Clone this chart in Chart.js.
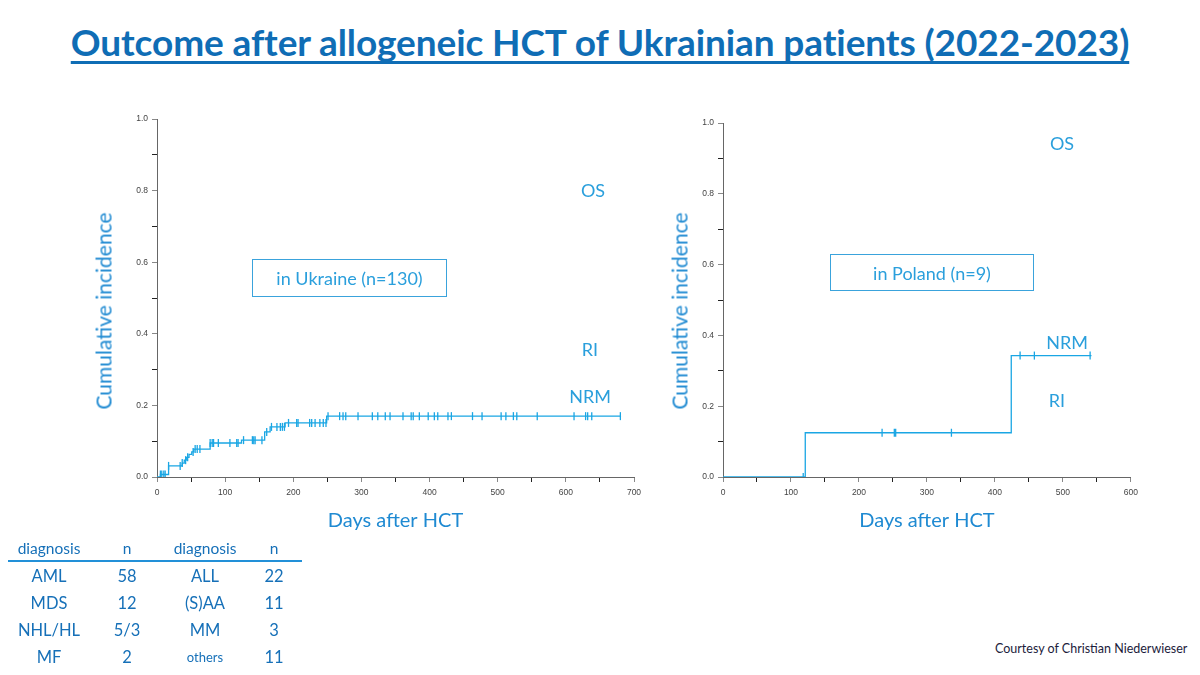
<!DOCTYPE html>
<html>
<head>
<meta charset="utf-8">
<title>Outcome after allogeneic HCT of Ukrainian patients</title>
<script src="https://cdn.jsdelivr.net/npm/chart.js@4.4.0/dist/chart.umd.min.js"></script>
<style>
  body { margin: 0; width: 1200px; height: 675px; background: #fff; position: relative; overflow: hidden; font-family: Lato, "Open Sans", sans-serif; }
  #title { position: absolute; left: 0; width: 1200px; top: 19px; text-align: center; font-weight: bold; font-size: 37px; color: #0f6db5; text-decoration: underline; text-decoration-thickness: 3px; text-underline-offset: 5px; text-decoration-skip-ink: none; letter-spacing: -0.1px; }
  .box { position: absolute; }
  .lbl { position: absolute; color: #2a9fdc; font-size: 18px; transform: translate(-50%, -50%); white-space: nowrap; }
  .ytitle { position: absolute; color: #1f8ad2; font-size: 21px; transform: translate(-50%, -50%) rotate(-90deg); white-space: nowrap; }
  .frame { position: absolute; border: 1.5px solid #3aa3dc; color: #2a9fdc; font-size: 18px; display: flex; align-items: center; justify-content: center; box-sizing: border-box; }
  #diag { position: absolute; left: 8px; top: 536px; border-collapse: collapse; color: #1670b8; }
  #diag th { font-weight: normal; font-size: 15.5px; height: 24px; border-bottom: 2px solid #2290d8; padding: 0; }
  #diag td { font-size: 16.5px; height: 27px; text-align: center; padding: 0; }
  #credit { position: absolute; left: 995px; top: 641px; font-size: 12.5px; color: #1c1c3c; }
</style>
</head>
<body>
<div id="title">Outcome after allogeneic HCT of Ukrainian patients (2022-2023)</div>

<div class="box" style="left:88px; top:100px; width:560px; height:440px;"><canvas id="ukChart"></canvas></div>
<div class="box" style="left:664px; top:100px; width:480px; height:440px;"><canvas id="plChart"></canvas></div>

<div class="ytitle" style="left:103px; top:311px;">Cumulative incidence</div>
<div class="ytitle" style="left:679px; top:311px;">Cumulative incidence</div>

<div class="lbl" style="left:593px; top:190px;">OS</div>
<div class="lbl" style="left:590px; top:349px;">RI</div>
<div class="lbl" style="left:590px; top:396px;">NRM</div>
<div class="frame" style="left:252px; top:259px; width:195px; height:38px;">in Ukraine (n=130)</div>

<div class="lbl" style="left:1062px; top:143px;">OS</div>
<div class="lbl" style="left:1067px; top:342px;">NRM</div>
<div class="lbl" style="left:1057px; top:400px;">RI</div>
<div class="frame" style="left:830px; top:254px; width:204px; height:37px;">in Poland (n=9)</div>

<table id="diag">
  <thead><tr>
    <th style="width:82px">diagnosis</th><th style="width:74px">n</th><th style="width:82px">diagnosis</th><th style="width:56px">n</th>
  </tr></thead>
  <tbody id="diagBody"></tbody>
</table>

<div id="credit">Courtesy of Christian Niederwieser</div>

<script>
'use strict';
//--------------------DATA

// Ukraine: cumulative incidence step points (day where the curve jumps, new level)
let ukDays = [0, 5, 17, 34, 37, 40, 43, 47, 51, 54, 78, 124, 158, 166, 188, 249, 681];
let ukCI = [0, 0.007, 0.031, 0.031, 0.039, 0.047, 0.055, 0.063, 0.070, 0.078, 0.095, 0.103, 0.126, 0.140, 0.151, 0.170, 0.170];

// Ukraine: censored patients (days)
let ukCensor = [5, 7, 10, 12, 17, 34, 37, 42, 45, 53, 56, 59, 63, 78, 81, 83, 90, 107, 117, 119,
  127, 140, 142, 144, 154, 161, 168, 176, 181, 184, 187, 193, 205, 207, 224, 227, 232, 239, 244, 248,
  251, 268, 273, 277, 295, 316, 324, 335, 342, 361, 373, 376, 385, 398, 407, 412, 427, 432,
  463, 477, 505, 512, 523, 528, 558, 612, 629, 632, 638, 680];

// Poland: step points and censored days
let plDays = [0, 121, 424, 542];
let plCI = [0, 0.125, 0.343, 0.343];
let plCensor = [118, 234, 252, 254, 336, 437, 458, 540];

// tick labels
let yTicks = ['0.0', '0.2', '0.4', '0.6', '0.8', '1.0'];

// diagnosis table
let diagLeft = ['AML', 'MDS', 'NHL/HL', 'MF'];
let nLeft = ['58', '12', '5/3', '2'];
let diagRight = ['ALL', '(S)AA', 'MM', 'others'];
let nRight = ['22', '11', '3', '11'];

//--------------------FUNCTIONS

// level of the step curve at a given day
function levelAt(days, ci, day) {
  let v = 0;
  for (let i = 0; i < days.length; i++) {
    if (days[i] <= day) {
      v = ci[i];
    }
  }
  return v;
}

function toPoints(xs, ys) {
  let pts = [];
  for (let i = 0; i < xs.length; i++) {
    pts.push({ x: xs[i], y: ys[i] });
  }
  return pts;
}

function censorPoints(censor, days, ci) {
  let pts = [];
  for (let i = 0; i < censor.length; i++) {
    pts.push({ x: censor[i], y: levelAt(days, ci, censor[i]) });
  }
  return pts;
}

// build one cumulative incidence chart
function makeChart(id, days, ci, censor, xMax, opts) {
  const lineColor = '#1aa6e4';
  const tickFont = { family: 'Liberation Sans', size: 8.5 };
  const titleFont = { family: 'Lato', size: 20 };

  return new Chart(document.getElementById(id), {
    type: 'line',
    data: {
      datasets: [
        {
          data: toPoints(days, ci),
          stepped: 'before',
          borderColor: lineColor,
          borderWidth: 1.3,
          pointRadius: 0,
          fill: false,
        },
        {
          type: 'scatter',
          data: censorPoints(censor, days, ci),
          pointStyle: 'line',
          rotation: 90,
          pointRadius: 4,
          borderColor: lineColor,
          borderWidth: 1.3,
        },
      ],
    },
    options: {
      responsive: true,
      maintainAspectRatio: false,
      animation: false,
      layout: { padding: opts.padding },
      plugins: { legend: { display: false }, tooltip: { enabled: false } },
      scales: {
        x: {
          type: 'linear',
          min: 0,
          max: xMax,
          afterFit: function (scale) { scale.height = 60; },
          ticks: {
            stepSize: 50,
            color: '#444',
            font: tickFont,
            padding: 6,
            maxRotation: 0,
            callback: function (v) { return v % 100 === 0 ? String(v) : ''; },
          },
          grid: { drawOnChartArea: false, tickLength: 5, tickColor: function (c) { return c.tick && c.tick.value % 100 === 0 ? '#888' : '#222'; } },
          border: { color: '#666', width: 1 },
          title: { display: true, text: 'Days after HCT', color: '#1f8ad2', font: titleFont, padding: { top: 0, bottom: 4 } },
        },
        y: {
          min: 0,
          max: 1,
          afterFit: function (scale) { scale.width = opts.yWidth; },
          ticks: {
            stepSize: 0.1,
            color: '#444',
            font: tickFont,
            padding: 4,
            callback: function (v) {
              let s = v.toFixed(1);
              return yTicks.includes(s) ? s : '';
            },
          },
          grid: { drawOnChartArea: false, tickLength: 5, tickColor: function (c) { return c.tick && Math.round(c.tick.value * 10) % 2 === 0 ? '#888' : '#222'; } },
          border: { color: '#666', width: 1 },
        },
      },
    },
  });
}

//--------------------FUNCTION CALLS

makeChart('ukChart', ukDays, ukCI, ukCensor, 700, { padding: { top: 19, right: 14, bottom: 3, left: 0 }, yWidth: 69 });
makeChart('plChart', plDays, plCI, plCensor, 600, { padding: { top: 23, right: 13, bottom: 3, left: 0 }, yWidth: 59 });

// diagnosis table rows
let body = document.getElementById('diagBody');
for (let i = 0; i < diagLeft.length; i++) {
  let row = document.createElement('tr');
  let cells = [diagLeft[i], nLeft[i], diagRight[i], nRight[i]];
  for (let j = 0; j < cells.length; j++) {
    let td = document.createElement('td');
    td.innerText = cells[j];
    if (cells[j] === 'others') {
      td.style.fontSize = '13px';
    }
    row.appendChild(td);
  }
  body.appendChild(row);
}
</script>
</body>
</html>
